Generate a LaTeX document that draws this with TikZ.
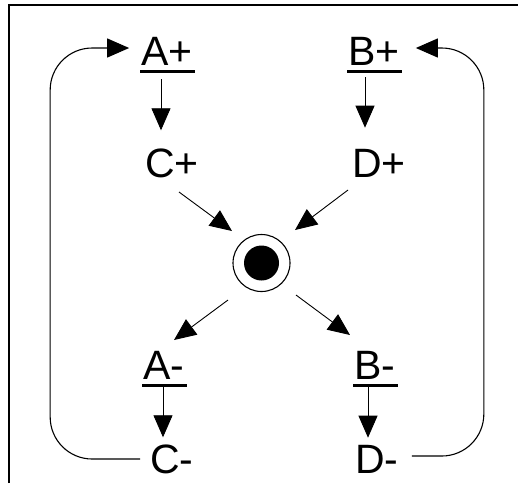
\documentclass[tikz,border=0pt]{standalone}
\usepackage{fontspec}
\setmainfont{Liberation Sans}
\usetikzlibrary{arrows.meta}

\begin{document}
\begin{tikzpicture}
[
	x=1pt,y=-1pt,
	lbl/.style={inner sep=0pt,font=\fontsize{41pt}{47pt}\selectfont},
	arr/.style={line width=0.9pt,-{Triangle[length=22pt,width=19pt]}},
	loopline/.style={line width=1.1pt,rounded corners=42pt,-{Triangle[length=22pt,width=19pt]}}
]

	\useasboundingbox (0,0) rectangle (518,483);

	% frame
	\draw[line width=2pt] (9,483) -- (9,5) -- (518,5);

	% labels
	\node[lbl] (Ap) at (167,51) {A+};
	\node[lbl] (Bp) at (374,51) {B+};
	\node[lbl] (Cp) at (172,163) {C+};
	\node[lbl] (Dp) at (379,163) {D+};
	\node[lbl] (Am) at (164,365) {A-};
	\node[lbl] (Bm) at (375,365) {B-};
	\node[lbl] (Cm) at (172,459) {C-};
	\node[lbl] (Dm) at (377,459) {D-};

	% underlines
	\foreach \n in {Ap,Bp,Am,Bm}
		\draw[line width=3pt] ([xshift=-1pt,yshift=-6pt]\n.south west) -- ([xshift=2pt,yshift=-6pt]\n.south east);

	% centre
	\node[circle,draw,line width=1.1pt,minimum size=57pt,inner sep=0pt] (ring) at (261.5,263) {};
	\fill (ring.center) circle[radius=17.5pt];

	% arrows down
	\draw[arr] ([xshift=-6pt,yshift=-14pt]Ap.south) -- ([xshift=-6pt,yshift=18pt]Ap.south |- Cp.north);
	\draw[arr] ([xshift=-9pt,yshift=-12pt]Bp.south) -- ([xshift=-9pt,yshift=21pt]Bp.south |- Dp.north);
	\draw[arr] ([xshift=-1pt,yshift=-8pt]Am.south) -- ([xshift=-1pt,yshift=7pt]Am.south |- Cm.north);
	\draw[arr] ([xshift=-7pt,yshift=-6pt]Bm.south) -- ([xshift=-7pt,yshift=7pt]Bm.south |- Dm.north);

	% arrows to and from the centre
	\draw[arr] ([shift={(7,29)}]Cp.center) -- ([shift={(-29.5,-32)}]ring.center);
	\draw[arr] ([shift={(-31,27)}]Dp.center) -- ([shift={(33.5,-33)}]ring.center);
	\draw[arr] ([shift={(-33.5,37)}]ring.center) -- ([shift={(10,-25)}]Am.center);
	\draw[arr] ([shift={(34.5,32)}]ring.center) -- ([shift={(-25,-30)}]Bm.center);

	% loops
	\draw[loopline] ([xshift=-10pt]Cm.west) -- ++(-90,0) |- ([xshift=-12pt,yshift=3pt]Ap.west);
	\draw[loopline] ([xshift=13pt,yshift=3pt]Dm.east) -- ++(72,0) |- ([xshift=16pt,yshift=3pt]Bp.east);

\end{tikzpicture}
\end{document}
